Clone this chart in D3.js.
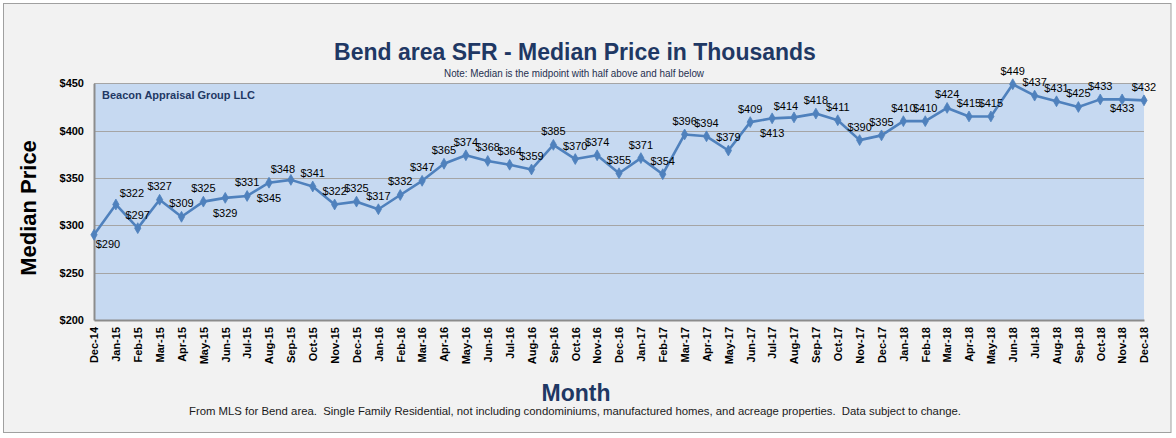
<!DOCTYPE html>
<html><head><meta charset="utf-8">
<script src="https://cdn.jsdelivr.net/npm/d3@7/dist/d3.min.js"></script>
<style>
html,body{margin:0;padding:0;background:#fff;}
text{font-family:"Liberation Sans",Arial,sans-serif;}
</style></head>
<body><svg id="c" width="1176" height="438"></svg>
<script>
const months = ["Dec-14","Jan-15","Feb-15","Mar-15","Apr-15","May-15","Jun-15","Jul-15","Aug-15","Sep-15","Oct-15","Nov-15",
"Dec-15","Jan-16","Feb-16","Mar-16","Apr-16","May-16","Jun-16","Jul-16","Aug-16","Sep-16","Oct-16","Nov-16",
"Dec-16","Jan-17","Feb-17","Mar-17","Apr-17","May-17","Jun-17","Jul-17","Aug-17","Sep-17","Oct-17","Nov-17",
"Dec-17","Jan-18","Feb-18","Mar-18","Apr-18","May-18","Jun-18","Jul-18","Aug-18","Sep-18","Oct-18","Nov-18","Dec-18"];
const prices = [290,322,297,327,309,325,329,331,345,348,341,322,
325,317,332,347,365,374,368,364,359,385,370,374,
355,371,354,396,394,379,409,413,414,418,411,390,
395,410,410,424,415,415,449,437,431,425,433,433,432];
const yTicks = [200,250,300,350,400,450];
// label placement per point: a = above, b = below, r = below-right, ar = above-right, al = above-left, bn = just below
const labelPlace = ["r","ar","a","a","a","a","b","a","b","al","a","a",
"a","a","a","a","a","a","a","a","a","a","a","a",
"a","a","a","a","a","a","a","b","al","a","a","a",
"a","a","a","a","a","a","a","a","a","a","a","bn","a"];
const placeOffset = {a:[0,-13.5], b:[0,15], r:[14,9.5], ar:[16,-11], al:[-8,-11], bn:[0,8.5]};

const svg = d3.select("#c");
svg.append("rect").attr("x",3.5).attr("y",3.5).attr("width",1167.5).attr("height",429)
  .attr("fill","#f2f2f2").attr("stroke","#a0a0a0").attr("stroke-width",1);

const L=94, R=1144, T=83.3, B=320;
const x = d3.scalePoint().domain(months).range([L,R]).padding(0);
const y = d3.scaleLinear().domain([200,450]).range([B,T]);

svg.append("rect").attr("x",L).attr("y",T).attr("width",R-L).attr("height",B-T).attr("fill","#c6d9f1");

// gridlines
svg.append("g").selectAll("line").data(yTicks.filter(d=>d>200)).join("line")
  .attr("x1",L).attr("x2",R).attr("y1",d=>Math.round(y(d))+0.5).attr("y2",d=>Math.round(y(d))+0.5)
  .attr("stroke","#a5a5a5").attr("stroke-width",1.2);

// axes
const yAxis = d3.axisLeft(y).tickValues(yTicks).tickSize(0).tickPadding(10).tickFormat(d=>"$"+d);
const gy = svg.append("g").attr("transform",`translate(${L},0)`).call(yAxis);
gy.select(".domain").attr("stroke","#8c8c8c").attr("stroke-width",2);
gy.selectAll("text").attr("font-size","11px").attr("font-weight","bold").attr("fill","#000")
  .attr("font-family","Liberation Sans, Arial, sans-serif");

const xAxis = d3.axisBottom(x).tickSize(0).tickPadding(0);
const gx = svg.append("g").attr("transform",`translate(0,${B})`).call(xAxis);
gx.select(".domain").attr("stroke","#8c8c8c").attr("stroke-width",2);
gx.selectAll("text").attr("font-size","11px").attr("font-weight","bold").attr("fill","#000")
  .attr("font-family","Liberation Sans, Arial, sans-serif")
  .attr("transform","rotate(-90)").attr("text-anchor","end").attr("dy","0.35em").attr("x",-7).attr("y",0);

// line
const line = d3.line().x((d,i)=>x(months[i])).y(d=>y(d));
svg.append("path").datum(prices).attr("d",line).attr("fill","none")
  .attr("stroke","#4f81bd").attr("stroke-width",2.6).attr("stroke-linejoin","round");

// markers
const diamond = d3.symbol().type(d3.symbolDiamond).size(34);
svg.append("g").selectAll("path").data(prices).join("path")
  .attr("d",diamond).attr("transform",(d,i)=>`translate(${x(months[i])},${y(d)})`)
  .attr("fill","#4f81bd").attr("stroke","#4f81bd").attr("stroke-width",0.8);

// labels
svg.append("g").selectAll("text").data(prices).join("text")
  .attr("x",(d,i)=>x(months[i])+placeOffset[labelPlace[i]][0])
  .attr("y",(d,i)=>y(d)+placeOffset[labelPlace[i]][1])
  .attr("dy","0.36em").attr("text-anchor","middle")
  .attr("font-size","11px").attr("fill","#000")
  .text(d=>"$"+d);

// titles
svg.append("text").attr("x",575).attr("y",59.5).attr("text-anchor","middle")
  .attr("font-size","23px").attr("font-weight","bold").attr("fill","#1f3864")
  .text("Bend area SFR - Median Price in Thousands");
svg.append("text").attr("x",574).attr("y",77).attr("text-anchor","middle")
  .attr("font-size","10px").attr("fill","#1f3050")
  .attr("textLength",260).attr("lengthAdjust","spacingAndGlyphs")
  .text("Note: Median is the midpoint with half above and half below");
svg.append("text").attr("x",102).attr("y",99).attr("font-size","11.5px").attr("font-weight","bold")
  .attr("fill","#1f3864").attr("font-family","Open Sans, sans-serif")
  .attr("textLength",153).attr("lengthAdjust","spacingAndGlyphs")
  .text("Beacon Appraisal Group LLC");
svg.append("text").attr("transform","translate(36,208) rotate(-90)").attr("text-anchor","middle")
  .attr("font-size","22px").attr("font-weight","bold").attr("fill","#000")
  .text("Median Price");
svg.append("text").attr("x",576).attr("y",401).attr("text-anchor","middle")
  .attr("font-size","23px").attr("font-weight","bold").attr("fill","#1f3864")
  .text("Month");
svg.append("text").attr("x",575).attr("y",415).attr("text-anchor","middle")
  .attr("font-size","11px").attr("fill","#1a1a1a")
  .attr("textLength",772).attr("lengthAdjust","spacingAndGlyphs")
  .attr("xml:space","preserve")
  .text("From MLS for Bend area.  Single Family Residential, not including condominiums, manufactured homes, and acreage properties.  Data subject to change.");
</script></body></html>
